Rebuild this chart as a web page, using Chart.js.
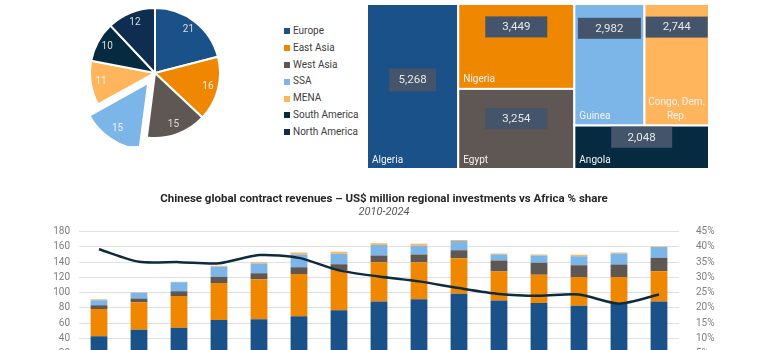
<!DOCTYPE html>
<html lang="en">
<head>
    <meta charset="UTF-8">
    <meta name="viewport" content="width=device-width, initial-scale=1.0">
    <title>Chinese contract revenues</title>
    <script src="https://cdn.jsdelivr.net/npm/chart.js"></script>
    <style>
        html, body { margin: 0; padding: 0; background: #fff; }
        body { width: 768px; height: 350px; overflow: hidden; position: relative;
               font-family: "Roboto", sans-serif; }
        #pieWrap { position: absolute; left: 0; top: 0; width: 280px; height: 146px; }
        #pieLegend { position: absolute; left: 284px; top: 23px; list-style: none; margin: 0; padding: 0;
                     font-size: 10px; color: #404040; }
        #pieLegend li { height: 16.8px; line-height: 16.8px; white-space: nowrap; }
        #pieLegend .sw { display: inline-block; width: 6px; height: 6px; margin-right: 3px; vertical-align: middle; }
        #treeWrap { position: absolute; left: 360px; top: 0; width: 408px; height: 175px; }
        #barWrap { position: absolute; left: 0; top: 186px; width: 768px; height: 213px; }
    </style>
</head>
<body>
    <!-- Regional split pie + legend -->
    <div id="pieWrap"><canvas id="regionPie"></canvas></div>
    <ul id="pieLegend"></ul>

    <!-- Top African countries treemap -->
    <div id="treeWrap"><canvas id="countryTree"></canvas></div>

    <!-- Revenues vs Africa share -->
    <div id="barWrap"><canvas id="revenueChart"></canvas></div>

    <script>
        // ---- data ----
        const regions = ['Europe', 'East Asia', 'West Asia', 'SSA', 'MENA', 'South America', 'North America'];
        const regionShare = [21, 16, 15, 15, 11, 10, 12];

        const countries = ['Algeria', 'Nigeria', 'Egypt', 'Guinea', 'Congo, Dem. Rep.', 'Angola'];
        const countryValues = [5268, 3449, 3254, 2982, 2744, 2048];

        const years = ['2010', '2011', '2012', '2013', '2014', '2015', '2016', '2017',
                       '2018', '2019', '2020', '2021', '2022', '2023', '2024'];
        const asiaRev     = [43, 51.4, 54, 64.2, 65.1, 69.1, 77, 88.4, 91.5, 98.5, 89.7, 86.3, 82.7, 85.3, 88.4];
        const africaRev   = [35.7, 36.1, 41.5, 48.5, 52.4, 55.5, 51.9, 51.5, 48.4, 46.7, 37.9, 37.3, 37.9, 35.3, 39.6];
        const middleEastRev = [4.9, 4.8, 6.5, 8.3, 7.9, 8.7, 8.4, 8.8, 10.1, 10.5, 14.5, 15.5, 15.3, 16.3, 17.7];
        const europeRev   = [6.6, 7.5, 11.5, 12.8, 12.8, 16.7, 13.7, 13.7, 11.6, 11.9, 7.9, 9.6, 11.9, 14.5, 14];
        const americasRev = [1.3, 0.9, 0.9, 1.3, 1.7, 2.7, 2.6, 2.2, 2.6, 1.4, 1.4, 1.3, 1.9, 1.3, 0.9];
        const africaShare = [39.2, 35.1, 35.0, 34.6, 37.3, 36.4, 32.3, 30.3, 28.7, 26.5, 24.6, 24.0, 24.4, 21.4, 24.4];

        const leftTicks = { min: 0, max: 180, step: 20 };
        const rightTicks = { min: 0, max: 45, step: 5 };

        // ---- styles ----
        const FONT = '"Roboto", sans-serif';
        const regionColours = ['#1B5189', '#EF8700', '#5E5753', '#7CB5E8', '#FFB55C', '#062B40', '#0E2D50'];
        const pieLabelColours = ['#dcdcdc', '#f2f2f2', '#dcdcdc', '#f2f2f2', '#f2f2f2', '#dcdcdc', '#dcdcdc'];
        const countryColours = ['#1B5189', '#EF8700', '#5E5753', '#7CB5E8', '#FFB55C', '#062B40'];
        const boxWidths = [47, 62, 62, 63, 62, 61];
        const boxCentreY = [0.46, 0.27, 0.37, 0.2, 0.19, 0.27];

        Chart.defaults.animation = false;

        // legend for the pie
        const legendEl = document.getElementById('pieLegend');
        regions.forEach((r, i) => {
            const li = document.createElement('li');
            li.innerHTML = '<span class="sw" style="background:' + regionColours[i] + '"></span>' + r;
            legendEl.appendChild(li);
        });

        // value labels on the slices
        const pieLabels = {
            id: 'pieLabels',
            afterDatasetsDraw(chart) {
                const ctx = chart.ctx;
                const meta = chart.getDatasetMeta(0);
                ctx.save();
                ctx.font = '10px ' + FONT;
                ctx.textAlign = 'center';
                ctx.textBaseline = 'middle';
                meta.data.forEach((arc, i) => {
                    const p = arc.getProps(['x', 'y', 'startAngle', 'endAngle', 'outerRadius'], true);
                    const mid = (p.startAngle + p.endAngle) / 2;
                    const r = p.outerRadius * 0.84 + (arc.options.offset || 0) / 4;
                    ctx.fillStyle = pieLabelColours[i];
                    ctx.fillText(regionShare[i], p.x + Math.cos(mid) * r, p.y + Math.sin(mid) * r);
                });
                ctx.restore();
            }
        };

        new Chart(document.getElementById('regionPie'), {
            type: 'pie',
            data: {
                labels: regions,
                datasets: [{
                    data: regionShare,
                    backgroundColor: regionColours,
                    borderColor: '#ffffff',
                    borderWidth: 2,
                    offset: regions.map(r => r === 'SSA' ? 48 : 0),
                    hoverOffset: 0,
                    radius: 65
                }]
            },
            options: {
                responsive: true,
                maintainAspectRatio: false,
                layout: { padding: { left: 30 } },
                plugins: { legend: { display: false }, tooltip: { enabled: false } }
            },
            plugins: [pieLabels]
        });

        // squarified treemap layout
        function worst(row, side) {
            const s = row.reduce((a, b) => a + b, 0);
            const mx = Math.max(...row), mn = Math.min(...row);
            return Math.max(side * side * mx / (s * s), (s * s) / (side * side * mn));
        }
        function squarify(values, rect) {
            const total = values.reduce((a, b) => a + b, 0);
            const areas = values.map(v => v * rect.w * rect.h / total);
            const out = [];
            let { x, y, w, h } = rect;
            let i = 0;
            while (i < areas.length) {
                const side = Math.min(w, h);
                let row = [areas[i]];
                let best = worst(row, side);
                let j = i + 1;
                while (j < areas.length) {
                    const next = row.concat(areas[j]);
                    const wv = worst(next, side);
                    if (wv > best) break;
                    row = next; best = wv; j++;
                }
                const thick = row.reduce((a, b) => a + b, 0) / side;
                let pos = 0;
                row.forEach(a => {
                    const len = a / thick;
                    if (w >= h) out.push({ x: x, y: y + pos, w: thick, h: len });
                    else out.push({ x: x + pos, y: y, w: len, h: thick });
                    pos += len;
                });
                if (w >= h) { x += thick; w -= thick; } else { y += thick; h -= thick; }
                i = j;
            }
            return out;
        }

        const treemap = {
            id: 'treemap',
            afterDraw(chart) {
                const { ctx, chartArea: a } = chart;
                const cells = squarify(countryValues, { x: a.left, y: a.top, w: a.width, h: a.height });
                ctx.save();
                cells.forEach((c, i) => {
                    ctx.fillStyle = countryColours[i];
                    ctx.fillRect(c.x, c.y, c.w, c.h);
                    ctx.strokeStyle = '#ffffff';
                    ctx.lineWidth = 2;
                    ctx.strokeRect(c.x, c.y, c.w, c.h);

                    // value box
                    const bw = boxWidths[i], bh = i === 0 ? 23 : 21;
                    const cx = c.x + c.w / 2, cy = c.y + c.h * boxCentreY[i];
                    ctx.fillStyle = '#44546A';
                    ctx.fillRect(cx - bw / 2, cy - bh / 2, bw, bh);
                    ctx.fillStyle = '#E8E8E8';
                    ctx.font = '11.5px ' + FONT;
                    ctx.textAlign = 'center';
                    ctx.textBaseline = 'middle';
                    ctx.fillText(countryValues[i].toLocaleString('en-US'), cx, cy + 0.5);

                    // category name
                    ctx.fillStyle = '#F4F4F4';
                    ctx.font = '10px ' + FONT;
                    const words = countries[i].split(' ');
                    const fits = ctx.measureText(countries[i]).width < c.w - 10;
                    if (fits) {
                        ctx.textAlign = 'left';
                        ctx.fillText(countries[i], c.x + 5, c.y + c.h - 9);
                    } else {
                        const first = words.slice(0, -1).join(' ');
                        const last = words[words.length - 1];
                        ctx.textAlign = 'center';
                        ctx.fillText(first, cx, c.y + c.h - 23);
                        ctx.fillText(last, cx, c.y + c.h - 9);
                    }
                });
                ctx.restore();
            }
        };

        new Chart(document.getElementById('countryTree'), {
            type: 'scatter',
            data: { datasets: [{ label: 'Countries', data: [] }] },
            options: {
                responsive: true,
                maintainAspectRatio: false,
                layout: { padding: { left: 7, top: 4, right: 59, bottom: 6 } },
                scales: { x: { display: false }, y: { display: false } },
                plugins: { legend: { display: false }, tooltip: { enabled: false } }
            },
            plugins: [treemap]
        });

        // revenues chart
        const tickFont = { family: FONT, size: 10 };
        function stackSet(label, data, colour) {
            return { label: label, data: data, backgroundColor: colour, order: 1,
                     barPercentage: 0.42, categoryPercentage: 1 };
        }

        new Chart(document.getElementById('revenueChart'), {
            type: 'bar',
            data: {
                labels: years,
                datasets: [
                    { type: 'line', label: 'Africa % share', data: africaShare, yAxisID: 'y2',
                      borderColor: '#0C2B3E', borderWidth: 2.5, pointRadius: 0, tension: 0.25, order: 0 },
                    stackSet('Asia', asiaRev, '#1B5189'),
                    stackSet('Africa', africaRev, '#EF8700'),
                    stackSet('Middle East', middleEastRev, '#5E5753'),
                    stackSet('Europe', europeRev, '#7CB5E8'),
                    stackSet('Americas', americasRev, '#FFB55C')
                ]
            },
            options: {
                responsive: true,
                maintainAspectRatio: false,
                plugins: {
                    legend: { display: false },
                    tooltip: { enabled: false },
                    title: {
                        display: true,
                        text: 'Chinese global contract revenues \u2013 US$ million regional investments vs Africa % share',
                        color: '#262626',
                        font: { family: FONT, size: 11.5, weight: 'bold' },
                        padding: { top: 6, bottom: 0 }
                    },
                    subtitle: {
                        display: true,
                        text: '2010-2024',
                        color: '#595959',
                        font: { family: FONT, size: 11, style: 'italic' },
                        padding: { top: 0, bottom: 12.6 }
                    }
                },
                scales: {
                    x: {
                        stacked: true,
                        grid: { display: false },
                        border: { display: false },
                        ticks: { color: '#7f7f7f', font: tickFont },
                        afterFit(s) { s.height = 30; }
                    },
                    y: {
                        stacked: true,
                        min: leftTicks.min, max: leftTicks.max,
                        ticks: { stepSize: leftTicks.step, autoSkip: false, color: '#7f7f7f', font: tickFont, padding: 9 },
                        grid: { color: '#e0e0e0', drawTicks: false },
                        border: { display: false },
                        afterFit(s) { s.width = 79; }
                    },
                    y2: {
                        position: 'right',
                        min: rightTicks.min, max: rightTicks.max,
                        ticks: { stepSize: rightTicks.step, autoSkip: false, color: '#7f7f7f', font: tickFont, padding: 9,
                                 callback: v => v + '%' },
                        grid: { display: false },
                        border: { display: false },
                        afterFit(s) { s.width = 89; }
                    }
                }
            }
        });
    </script>
</body>
</html>
